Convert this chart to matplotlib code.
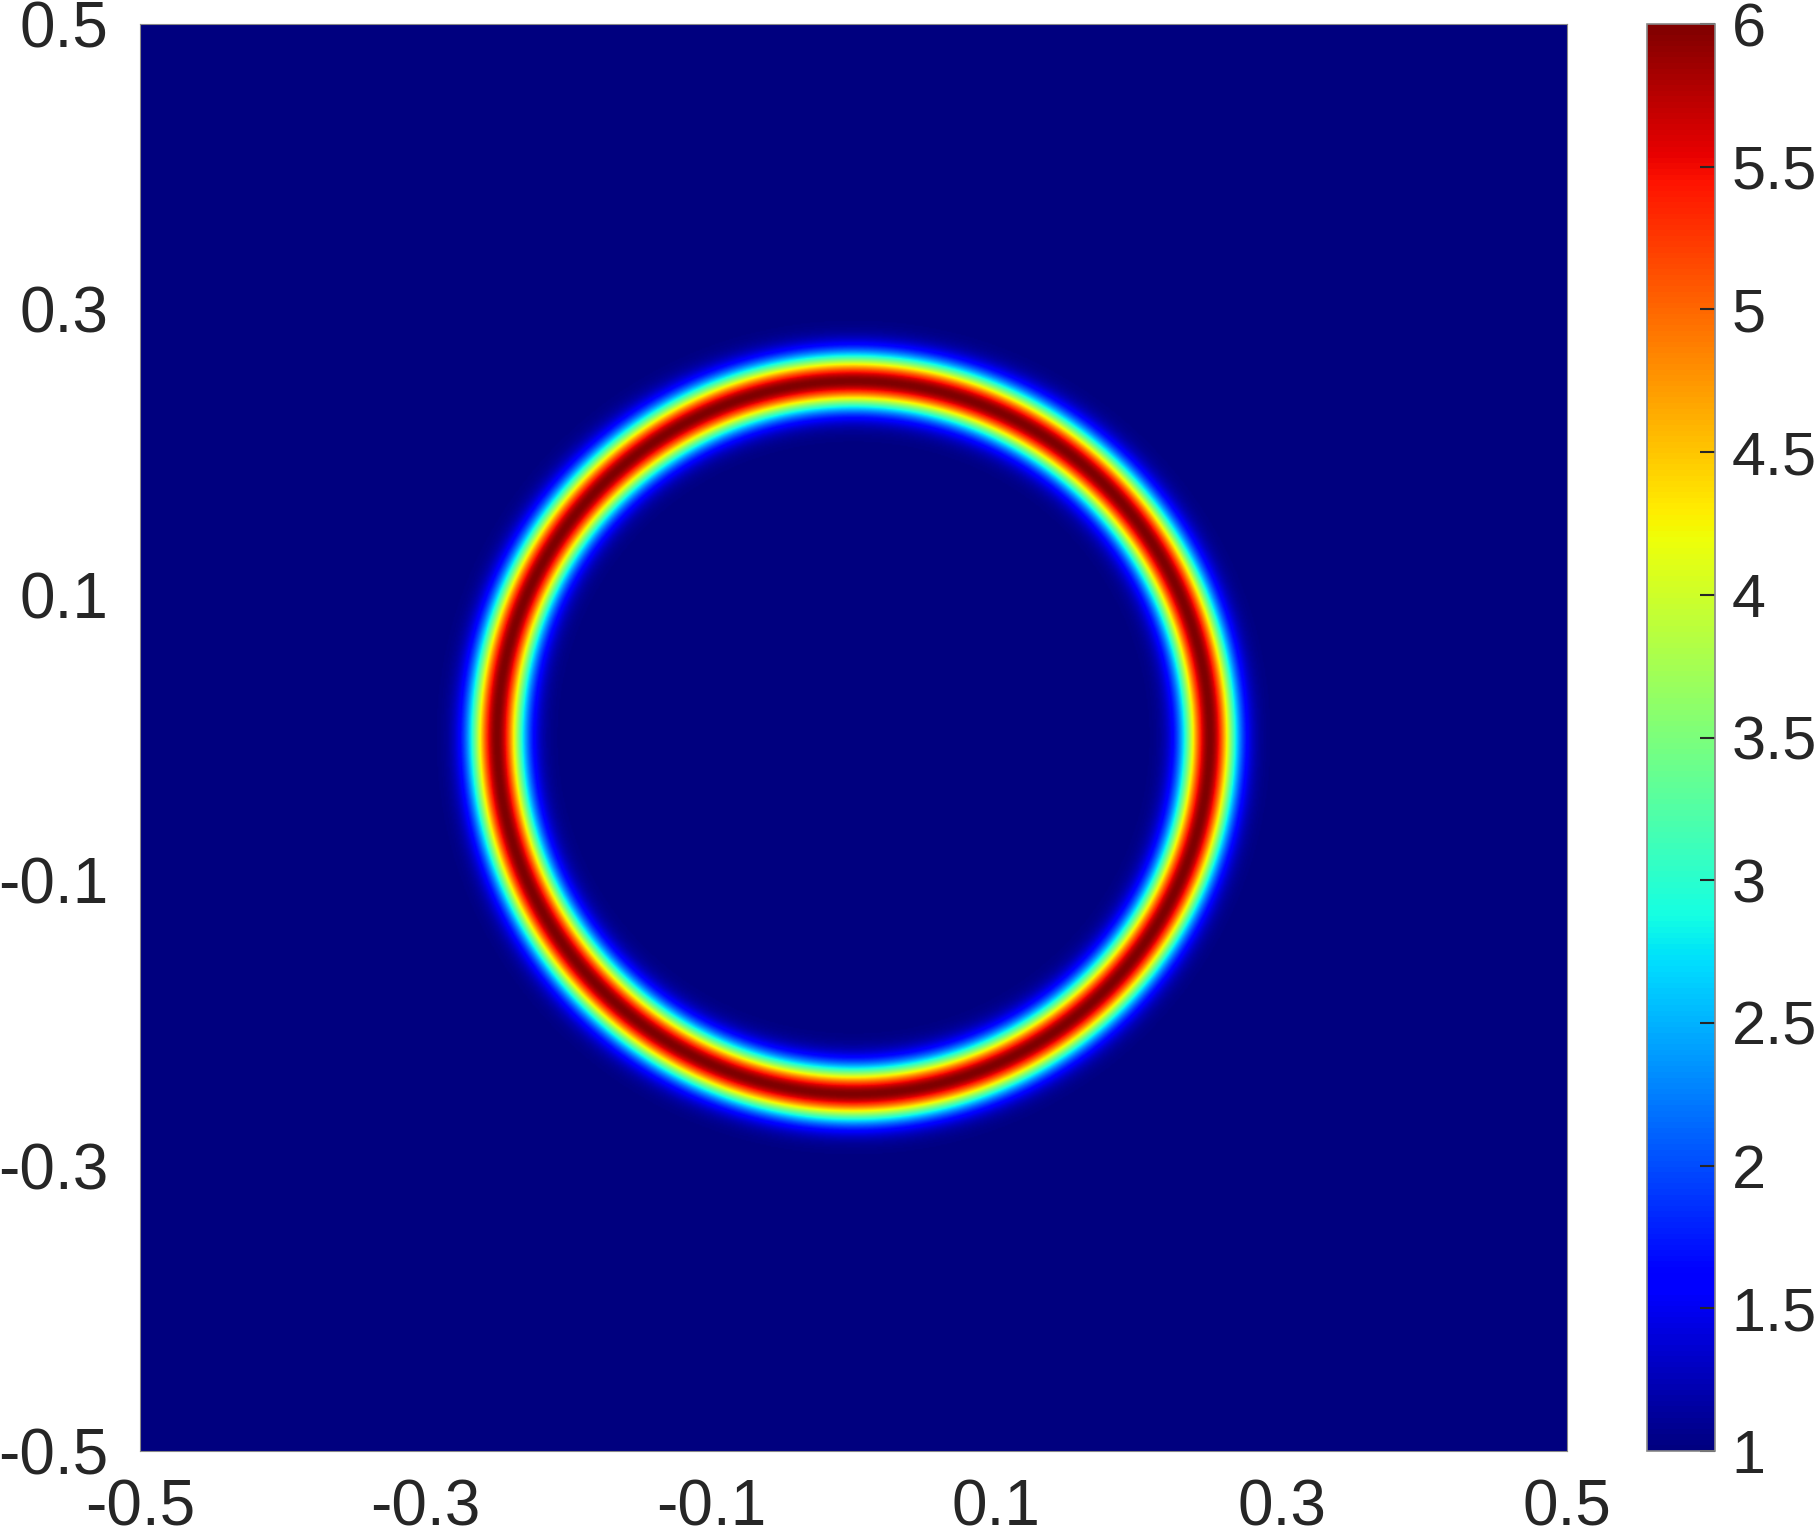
import matplotlib
matplotlib.use('Agg')
import matplotlib.pyplot as plt
import numpy as np

# ring field parameters
ring_radius = 0.25
ring_width = 0.018
base_level = 1.0
peak_level = 6.0
n_grid = 1201

xticks = [-0.5, -0.3, -0.1, 0.1, 0.3, 0.5]
yticks = [-0.5, -0.3, -0.1, 0.1, 0.3, 0.5]
cticks = [1, 1.5, 2, 2.5, 3, 3.5, 4, 4.5, 5, 5.5, 6]

xs = np.linspace(-0.5, 0.5, n_grid)
X, Y = np.meshgrid(xs, xs)
R = np.sqrt(X**2 + Y**2)
Z = base_level + (peak_level - base_level) * np.exp(-((R - ring_radius) / ring_width)**2)

plt.rcParams['font.family'] = ['Liberation Sans', 'DejaVu Sans']
plt.rcParams['axes.unicode_minus'] = False
txt = '#262626'

fig = plt.figure(figsize=(18.17, 15.4), dpi=100)
ax = fig.add_axes([0.07705, 0.05779, 0.7853, 0.92662])
im = ax.imshow(Z, extent=[-0.5, 0.5, -0.5, 0.5], origin='lower', cmap='jet',
               vmin=base_level, vmax=peak_level, interpolation='bilinear', aspect='auto')
ax.set_xlim(-0.5, 0.5)
ax.set_ylim(-0.5, 0.5)
ax.set_xticks(xticks)
ax.set_yticks(yticks)
ax.set_xticklabels([f'{v:g}' for v in xticks])
ax.set_yticklabels([f'{v:g}' for v in yticks])
ax.tick_params(length=0, labelsize=46, labelcolor=txt)
ax.tick_params(axis='x', pad=20)
ax.tick_params(axis='y', pad=23)
for s in ax.spines.values():
    s.set_color('#888888')
    s.set_linewidth(0.8)

cax = fig.add_axes([0.9064, 0.05779, 0.03742, 0.92662])
cb = fig.colorbar(im, cax=cax, ticks=cticks)
cb.ax.set_yticklabels([f'{v:g}' for v in cticks])
cb.ax.tick_params(direction='in', length=11, width=1.5, color='#262626',
                  labelsize=44, labelcolor=txt, pad=12)
cb.outline.set_edgecolor('#888888')
cb.outline.set_linewidth(1.2)

fig.savefig('out.png', dpi=100)
